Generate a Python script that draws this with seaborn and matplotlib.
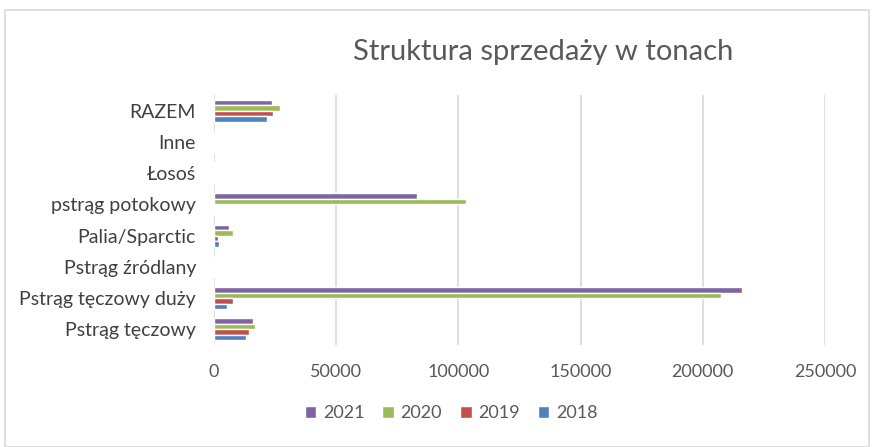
import numpy as np
import pandas as pd
import matplotlib
matplotlib.use('Agg')
import matplotlib.pyplot as plt
import seaborn as sns
from matplotlib.patches import Rectangle

# data (tonnes)
categories = ['RAZEM', 'Inne', 'Łosoś', 'pstrąg potokowy', 'Palia/Sparctic',
              'Pstrąg źródlany', 'Pstrąg tęczowy duży', 'Pstrąg tęczowy']
years = ['2021', '2020', '2019', '2018']
v2021 = [23800, 0, 0, 82900, 6000, 0, 216000, 15900]
v2020 = [27100, 0, 0, 103000, 7800, 0, 207500, 16900]
v2019 = [24200, 0, 0, 0, 1600, 0, 7600, 14500]
v2018 = [21500, 0, 0, 0, 1900, 0, 5400, 13200]
colors = ['#8064A2', '#9BBB59', '#C0504D', '#4F81BD']

df = pd.DataFrame({'kategoria': categories * 4,
                   'rok': np.repeat(years, len(categories)),
                   'tony': v2021 + v2020 + v2019 + v2018})

sns.set_style('white')
plt.rcParams['font.family'] = ['Lato', 'DejaVu Sans']

fig = plt.figure(figsize=(8.72, 4.47), dpi=100)
ax = fig.add_axes([214/872, 1-345/447, (825-214)/872, (345-95)/447])

sns.barplot(data=df, y='kategoria', x='tony', hue='rok', order=categories,
            hue_order=years, palette=colors, width=0.7, orient='h', ax=ax,
            saturation=1, legend=True)

ax.set_xlim(0, 250000)
ax.set_xticks(np.arange(0, 250001, 50000))
ax.set_xticklabels([str(t) for t in range(0, 250001, 50000)])
ax.xaxis.grid(True, color='#d9d9d9', linewidth=1.2)
ax.set_axisbelow(True)
for s in ax.spines.values():
    s.set_visible(False)
ax.set_xlabel('')
ax.set_ylabel('')
ax.tick_params(axis='x', length=0, labelsize=13, colors='#595959', pad=14)
ax.tick_params(axis='y', length=0, labelsize=14, colors='#404040', pad=13)

h, l = ax.get_legend_handles_labels()
ax.get_legend().remove()
fig.legend(h, l, loc='center', bbox_to_anchor=(451/872, 1-413/447), ncol=4,
           frameon=False, fontsize=13, handlelength=0.65, handleheight=0.65,
           handletextpad=0.35, columnspacing=1.0, labelcolor='#595959')

fig.text(543/872, 1-52/447, 'Struktura sprzedaży w tonach', ha='center',
         va='center', fontsize=21, color='#595959')

fig.patches.append(Rectangle((5/872, 0), 864/872, 1-10/447, transform=fig.transFigure,
                             fill=False, edgecolor='#d9d9d9', linewidth=1.2))

fig.savefig('out.png', dpi=100)
